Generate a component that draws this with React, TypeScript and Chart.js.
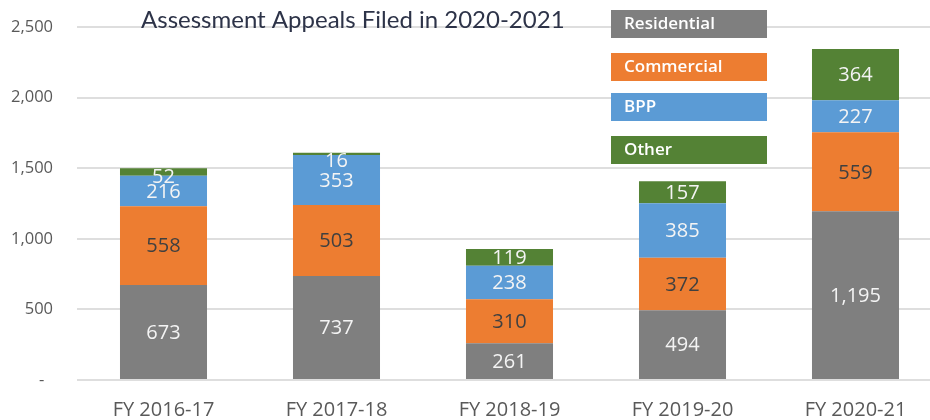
import React, { useEffect, useRef } from "react";
import { Chart, registerables } from "chart.js";

Chart.register(...registerables);

const categories = ["FY 2016-17", "FY 2017-18", "FY 2018-19", "FY 2019-20", "FY 2020-21"];
const residential = [673, 737, 261, 494, 1195];
const commercial = [558, 503, 310, 372, 559];
const bpp = [216, 353, 238, 385, 227];
const other = [52, 16, 119, 157, 364];
const seriesNames = ["Residential", "Commercial", "BPP", "Other"];
const seriesColors = ["#7f7f7f", "#ed7d31", "#5b9bd5", "#548235"];
const labelColors = ["#f4f4f4", "#404040", "#f4f4f4", "#f4f4f4"];
const yTicks = [0, 500, 1000, 1500, 2000, 2500];
const titleText = "Assessment Appeals Filed in 2020-2021";

const labelsPlugin = {
  id: "segLabels",
  afterDatasetsDraw(chart: any) {
    const ctx = chart.ctx;
    ctx.save();
    ctx.font = "20px 'Open Sans'";
    ctx.textAlign = "center";
    ctx.textBaseline = "middle";
    const last = chart.data.datasets.length - 1;
    chart.data.datasets.forEach((ds: any, i: number) => {
      const meta = chart.getDatasetMeta(i);
      meta.data.forEach((bar: any, j: number) => {
        const v = ds.data[j];
        const props = bar.getProps(["x", "y", "base"], true);
        let cy = (props.y + props.base) / 2;
        if (i === last) cy = Math.max(cy, props.y + 7.5);
        ctx.fillStyle = labelColors[i];
        ctx.fillText(v.toLocaleString("en-US"), props.x, cy + 1);
      });
    });
    ctx.restore();
  },
};

const overlayPlugin = {
  id: "overlay",
  afterDraw(chart: any) {
    const ctx = chart.ctx;
    ctx.save();
    // title
    ctx.font = "24px Lato";
    ctx.fillStyle = "#2d3348";
    ctx.textAlign = "left";
    ctx.textBaseline = "alphabetic";
    ctx.fillText(titleText, 141, 28);
    // legend
    const tops = [10, 53, 93, 136];
    seriesNames.forEach((name, i) => {
      ctx.fillStyle = seriesColors[i];
      ctx.fillRect(611, tops[i], 156, 28);
      ctx.fillStyle = "#ffffff";
      ctx.font = "600 17px 'Open Sans'";
      ctx.textBaseline = "middle";
      ctx.fillText(name, 624, tops[i] + 14);
    });
    ctx.restore();
  },
};

export default function App() {
  const ref = useRef<HTMLCanvasElement | null>(null);
  useEffect(() => {
    if (!ref.current) return;
    const data = [residential, commercial, bpp, other];
    const chart = new Chart(ref.current, {
      type: "bar",
      data: {
        labels: categories,
        datasets: seriesNames.map((n, i) => ({
          label: n,
          data: data[i],
          backgroundColor: seriesColors[i],
          borderWidth: 0,
          categoryPercentage: 1,
          barPercentage: 0.503,
        })),
      },
      options: {
        animation: false,
        responsive: true,
        maintainAspectRatio: false,
        layout: { padding: { top: 27, right: 0, left: 0, bottom: 0 } },
        plugins: { legend: { display: false }, tooltip: { enabled: false }, title: { display: false } },
        scales: {
          x: {
            stacked: true,
            grid: { display: false, drawTicks: false },
            border: { display: false },
            ticks: { color: "#595959", font: { family: "'Open Sans'", size: 20 }, padding: 18, maxRotation: 0 },
            afterFit(scale: any) {
              scale.height = 40;
            },
          },
          y: {
            stacked: true,
            min: 0,
            max: 2500,
            afterBuildTicks(scale: any) {
              scale.ticks = yTicks.map((v) => ({ value: v }));
            },
            grid: { color: "#dedede", lineWidth: 2, drawTicks: false },
            border: { display: false },
            ticks: {
              color: "#595959",
              font: { family: "'Open Sans'", size: 16.5 },
              padding: 24,
              callback: (v: any) => (Number(v) === 0 ? "-  " : Number(v).toLocaleString("en-US")),
            },
            afterFit(scale: any) {
              scale.width = 77;
              scale.paddingTop = 0;
              scale.paddingBottom = 0;
            },
          },
        },
      },
      plugins: [labelsPlugin, overlayPlugin],
    });
    return () => chart.destroy();
  }, []);
  return (
    <div style={{ position: "fixed", left: 0, top: 0, width: 930, height: 420, overflow: "hidden", background: "#fff" }}>
      <div style={{ position: "relative", width: 942, height: 420 }}>
        <canvas ref={ref} />
      </div>
    </div>
  );
}
